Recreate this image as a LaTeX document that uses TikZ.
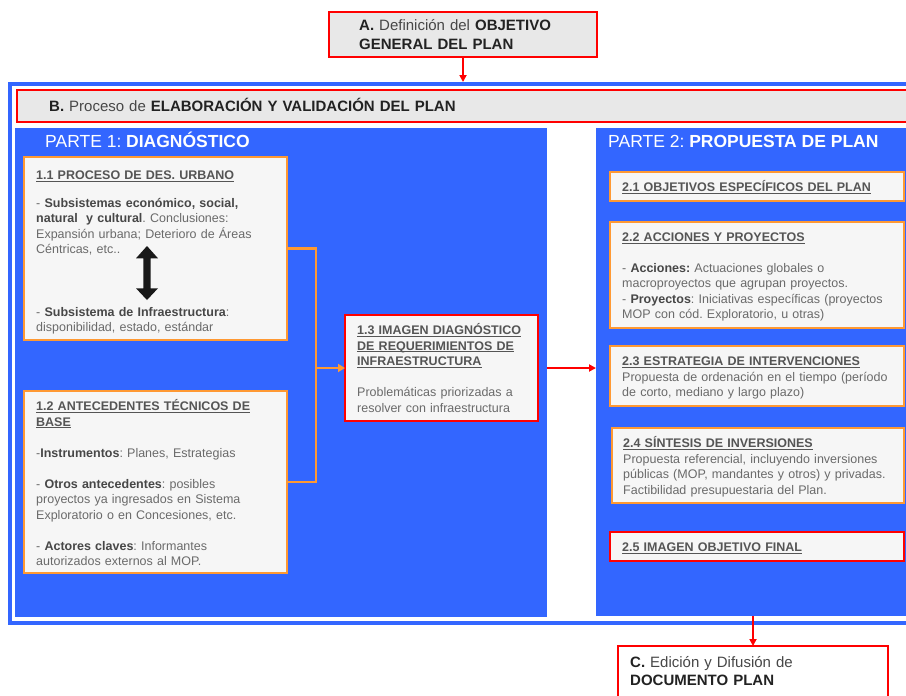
\documentclass[tikz,border=0pt]{standalone}
\usepackage{fontspec}
\setmainfont{Liberation Sans}
\usetikzlibrary{arrows.meta}
\definecolor{pblue}{HTML}{3366FF}
\definecolor{orangeC}{HTML}{FF9933}
\definecolor{redC}{HTML}{FF0000}
\definecolor{boxbg}{HTML}{F6F6F6}
\definecolor{graybg}{HTML}{E8E8E8}
\definecolor{txtg}{HTML}{6A6A6A}
\definecolor{txtb}{HTML}{474747}
\definecolor{hdrc}{HTML}{555555}
\definecolor{darkc}{HTML}{222222}
\newsavebox\hdbox
\newcommand\hdl[1]{\leavevmode\sbox\hdbox{\textcolor{hdrc}{\textbf{#1}}}\rlap{\textcolor{hdrc}{\rule[-2.2pt]{\wd\hdbox}{1pt}}}\usebox\hdbox}
\newcommand\bk[1]{\textcolor{txtb}{\textbf{#1}}}
\newcommand\dk[1]{\textcolor{darkc}{\textbf{#1}}}
\frenchspacing
\tikzset{
  bx/.style={rectangle, inner sep=0pt, outer sep=0pt, line width=2.5pt},
  obox/.style={bx, draw=orangeC, fill=boxbg},
  rbox/.style={bx, draw=redC, fill=boxbg},
  gbox/.style={bx, draw=redC, fill=graybg},
  panel/.style={rectangle, inner sep=0pt, outer sep=0pt, fill=pblue},
  txt/.style={anchor=base west, inner sep=0pt, text width=300pt, align=left, text=txtg, font=\fontsize{12.5}{15.5}\selectfont\frenchspacing},
  bigtxt/.style={anchor=base west, inner sep=0pt, text width=320pt, align=left, text=txtb, font=\fontsize{15}{19}\selectfont\frenchspacing},
  ptitle/.style={anchor=base west, inner sep=0pt, text=white, font=\fontsize{17.5}{21}\selectfont},
  oline/.style={draw=orangeC, line width=2.5pt},
  rline/.style={draw=redC, line width=2pt, -{Triangle[length=7pt,width=7pt]}},
}
\begin{document}
\begin{tikzpicture}[x=1pt,y=-1pt]
\useasboundingbox (0,0) rectangle (906,696);
\clip (0,0) rectangle (906,696);
\fill[white] (0,0) rectangle (906,696);
% frame and panels
\node[rectangle, draw=pblue, line width=4pt, fill=white, inner sep=0pt, outer sep=0pt, minimum width=902pt, minimum height=539pt] (frame) at (461,353.5) {};
\node[panel, minimum width=532pt, minimum height=489pt] (p1) at (281,372.5) {};
\node[panel, minimum width=319pt, minimum height=488pt] (p2) at (755.5,372) {};
% top boxes
\node[gbox, minimum width=268pt, minimum height=45pt] (A) at (463,34.5) {};
\node[gbox, minimum width=898pt, minimum height=32pt] (B) at (466,106) {};
\node[bx, draw=redC, fill=white, minimum width=270pt, minimum height=59pt] (C) at (753,675.5) {};
% part 1 boxes
\node[obox, minimum width=263pt, minimum height=183pt] (b11) at (155.5,248.5) {};
\node[obox, minimum width=263pt, minimum height=182pt] (b12) at (155.5,482) {};
\node[rbox, minimum width=193pt, minimum height=106pt] (b13) at (441.5,368) {};
% part 2 boxes
\node[obox, minimum width=294pt, minimum height=29pt] (b21) at (757,186.5) {};
\node[obox, minimum width=294pt, minimum height=106pt] (b22) at (757,275) {};
\node[obox, minimum width=294pt, minimum height=60pt] (b23) at (757,376) {};
\node[obox, minimum width=292pt, minimum height=75pt] (b24) at (758,465.5) {};
\node[rbox, minimum width=294pt, minimum height=29pt] (b25) at (757,546.5) {};
% titles
\node[ptitle] (pt1) at (45,147.3) {PARTE 1: \textbf{DIAGNÓSTICO}};
\node[ptitle] (pt2) at (608,147.3) {PARTE 2: \textbf{PROPUESTA DE PLAN}};
% texts
\node[bigtxt] (tA) at (359,30.7) {\dk{A.} Definición del \dk{OBJETIVO}\\ \dk{GENERAL DEL PLAN}};
\node[bigtxt, text width=600pt] (tB) at (49,111.8) {\dk{B.} Proceso de \dk{ELABORACIÓN Y VALIDACIÓN DEL PLAN}};
\node[bigtxt, font=\fontsize{15}{18.5}\selectfont] (tC) at (630,667) {\dk{C.} Edición y Difusión de\\ \dk{DOCUMENTO PLAN}};
\node[txt] (t11) at (36,179.5) {\hdl{1.1 PROCESO DE DES. URBANO}\\[12pt]
- \bk{Subsistemas económico, social,}\\
\bk{natural\ \ y cultural}. Conclusiones:\\
Expansión urbana; Deterioro de Áreas\\
Céntricas, etc..\\[47pt]
- \bk{Subsistema de Infraestructura}:\\
disponibilidad, estado, estándar};
\node[txt] (t12) at (36,410.5) {\hdl{1.2 ANTECEDENTES TÉCNICOS DE}\\
\hdl{BASE}\\[15.5pt]
-\bk{Instrumentos}: Planes, Estrategias\\[15.5pt]
- \bk{Otros antecedentes}: posibles\\
proyectos ya ingresados en Sistema\\
Exploratorio o en Concesiones, etc.\\[15.5pt]
- \bk{Actores claves}: Informantes\\
autorizados externos al MOP.};
\node[txt] (t13) at (357,334.5) {\hdl{1.3 IMAGEN DIAGNÓSTICO}\\
\hdl{DE REQUERIMIENTOS DE}\\
\hdl{INFRAESTRUCTURA}\\[15.5pt]
Problemáticas priorizadas a\\
resolver con infraestructura};
\node[txt] (t21) at (622,191.5) {\hdl{2.1 OBJETIVOS ESPECÍFICOS DEL PLAN}};
\node[txt] (t22) at (622,241.5) {\hdl{2.2 ACCIONES Y PROYECTOS}\\[15pt]
- \bk{Acciones:} Actuaciones globales o\\
macroproyectos que agrupan proyectos.\\
- \bk{Proyectos}: Iniciativas específicas (proyectos\\
MOP con cód. Exploratorio, u otras)};
\node[txt] (t23) at (622,365.5) {\hdl{2.3 ESTRATEGIA DE INTERVENCIONES}\\
Propuesta de ordenación en el tiempo (período\\
de corto, mediano y largo plazo)};
\node[txt] (t24) at (623,447.5) {\hdl{2.4 SÍNTESIS DE INVERSIONES}\\
Propuesta referencial, incluyendo inversiones\\
públicas (MOP, mandantes y otros) y privadas.\\
Factibilidad presupuestaria del Plan.};
\node[txt] (t25) at (622,551.5) {\hdl{2.5 IMAGEN OBJETIVO FINAL}};
% double arrow
\fill[black!90] (147,246) -- (158,258.3) -- (150.7,258.3) -- (150.7,288.3) -- (158,288.3) -- (147,300) -- (136,288.3) -- (143.3,288.3) -- (143.3,258.3) -- (136,258.3) -- cycle;
% connectors
\coordinate (jx) at (316,368);
\draw[oline] (b11.east) -| (jx) |- (b12.east);
\draw[oline, -{Triangle[length=7pt,width=8pt]}] (jx) -- (b13.west);
\draw[rline] (A.south) -- ([yshift=2pt]A.south |- frame.north);
\draw[rline] (p1.east |- b13.east) -- (p2.west |- b13.east);
\draw[rline] (C.north |- p2.south) -- (C.north);
\end{tikzpicture}
\end{document}
